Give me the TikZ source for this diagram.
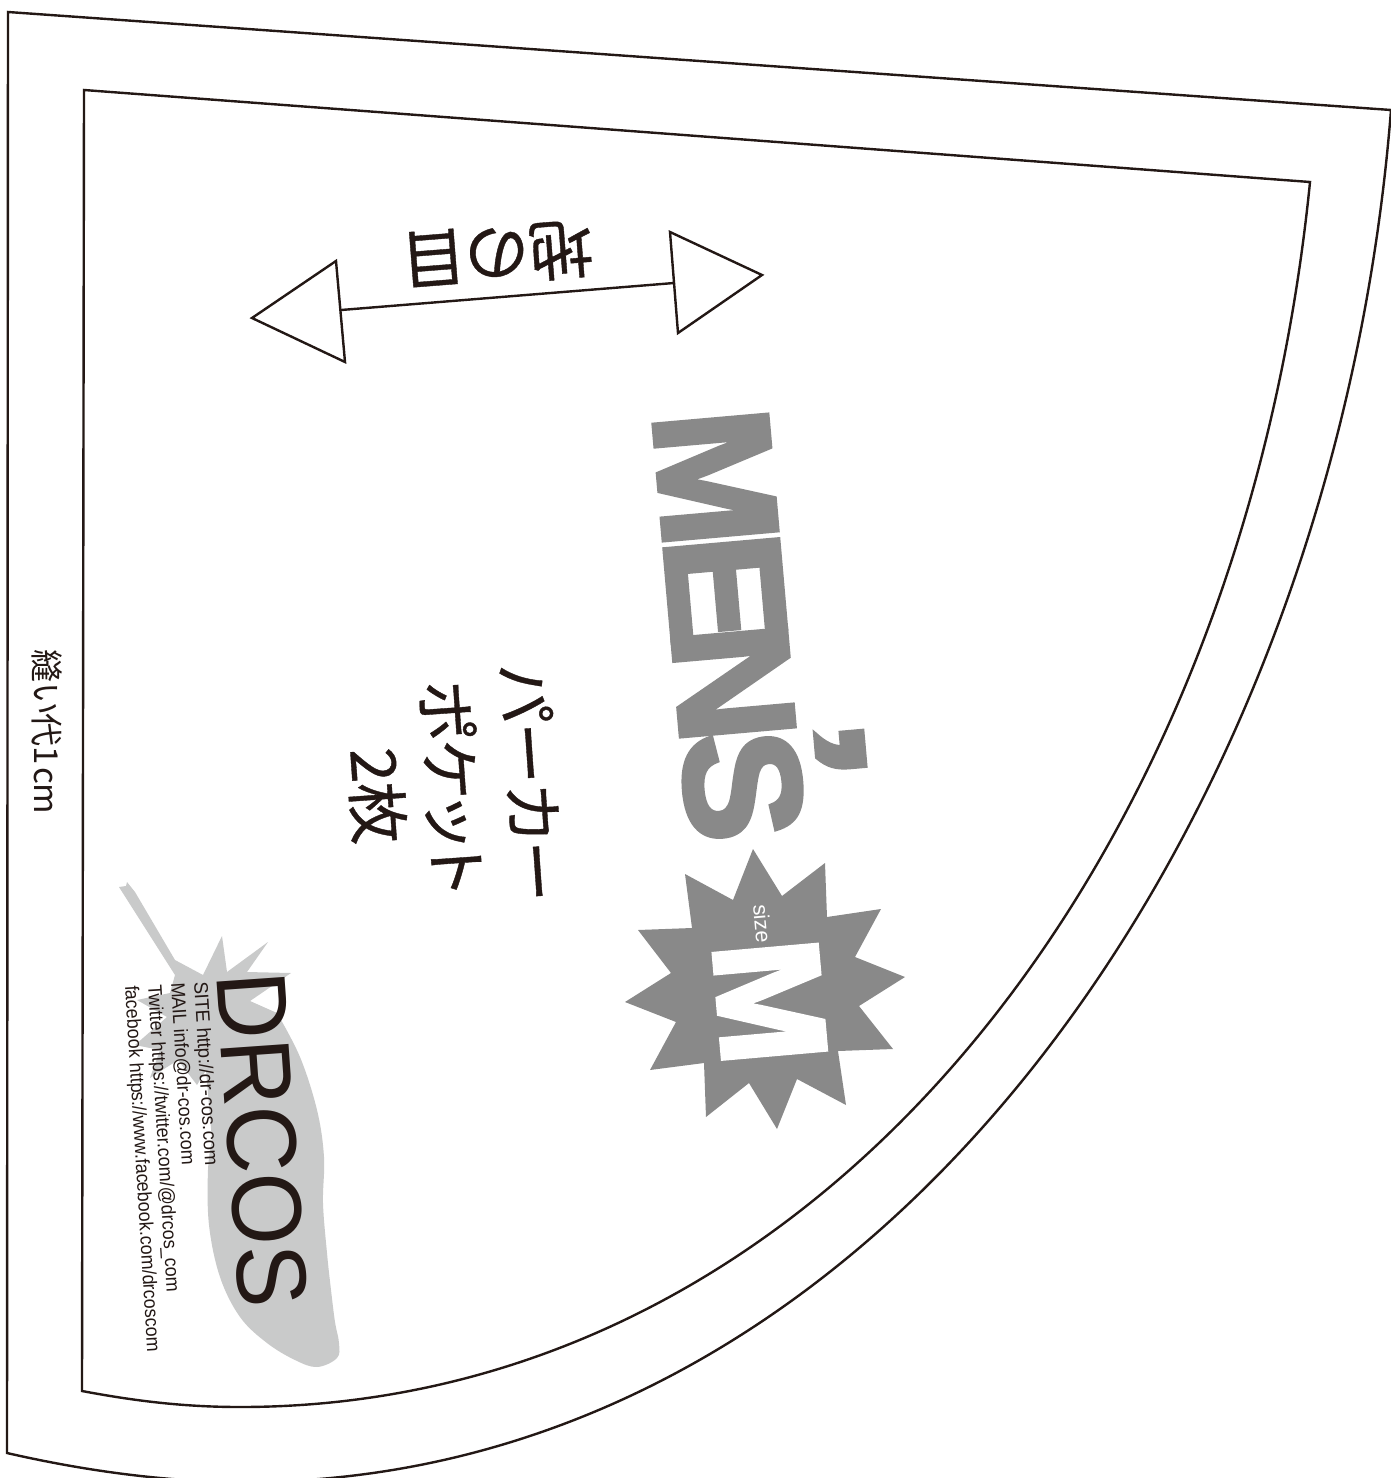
\documentclass[tikz,border=0pt]{standalone}
\usepackage{graphicx}
\usepackage{fontspec}
\setmainfont{Liberation Sans}
\newfontfamily\heavy[UprightFont=* Bold,FakeBold=3]{Liberation Sans}
\newfontfamily\cjk[RawFeature={+palt}]{Noto Sans CJK JP}
\newfontfamily\cjkm[RawFeature={+palt},FakeBold=.6]{Noto Sans CJK JP}
\definecolor{ink}{HTML}{231815}
\definecolor{greyA}{HTML}{898989}
\definecolor{greyB}{HTML}{C9CACA}
\newcommand{\fs}[1]{\fontsize{#1}{#1}\selectfont}
\tikzset{
  cutline/.style={draw=ink,line width=2.4pt,line join=miter},
  label/.style={inner sep=0pt,outer sep=0pt,text=ink},
  startext/.style={label,anchor=base west,rotate=-85},
  webline/.style={label,anchor=base west,rotate=-86.5,font=\fs{19.5}}
}
\begin{document}
\begin{tikzpicture}[x=1pt,y=-1pt]
\useasboundingbox (0,0) rectangle (1391,1478);
\clip (0,0) rectangle (1391,1478);
\fill[white] (0,0) rectangle (1391,1478);
% seam allowance outline
\draw[cutline] (8,12) -- (1391,110) .. controls (1335,820) and (885,1482) .. (245,1482)
  .. controls (170,1482) and (90,1472) .. (7,1453) -- cycle;
% sewing outline
\draw[cutline] (84,90) -- (1310,182) .. controls (1242,862) and (820,1407) .. (240,1407)
  .. controls (180,1407) and (130,1400) .. (82,1391) -- cycle;
% feather
\fill[greyB] (119,887) -- (126,886) -- (127,882) -- (135,892) -- (175,960) -- (203,975)
  -- (222,936) -- (227,972) -- (268,942) -- (247,972) -- (291,973) -- (250,1001) -- (277,1013)
  -- plot[smooth,tension=.6] coordinates {(277,1013) (300,1057) (317,1110) (324,1157) (323,1203) (327,1253) (331,1290) (335,1322) (339,1343) (337,1358) (317,1367) (295,1360) (267,1343) (240,1317) (220,1277) (209,1225) (208,1170) (212,1140)}
  -- (206,1070) -- (197,1085) -- (178,1060) -- (150,1078) -- (160,1050) -- (135,1045) -- (167,1017)
  -- (137,1000) -- (170,993) -- (175,975) -- cycle;
% burst
\fill[greyA] (753,849) -- (782,896) -- (825,863) -- (827,917) -- (881,909) -- (855,957)
  -- (905,977) -- (859,1006) -- (893,1049) -- (838,1051) -- (846,1105) -- (797,1079)
  -- (777,1129) -- (749,1083) -- (706,1117) -- (704,1063) -- (650,1070) -- (676,1022)
  -- (625,1002) -- (671,973) -- (638,930) -- (692,928) -- (685,874) -- (733,900) -- cycle;
% grain line
\coordinate (arrowL) at (341,310);
\coordinate (arrowR) at (674,283);
\draw[ink,line width=2.4pt] (arrowL) -- (arrowR);
\draw[cutline,fill=white] (252,318) -- (336,261) -- (345,362) -- cycle;
\draw[cutline,fill=white] (670,232) -- (762,275) -- (678,333) -- cycle;
\node[label,rotate=184.5,font=\cjkm\fs{65}] (grain) at (497,255) {地の目};
% labels
\node[label,anchor=base west,rotate=-85,font=\heavy\fs{165},text=greyA] (mens) at (653,414)
  {M\kern-12.5pt E\kern-20pt N\kern-15pt\rlap{\raisebox{67pt}{\scalebox{1.4}[1]{’}}}\kern15pt\kern-11pt S};
\node[startext,font=\heavy\fs{150},text=white] (sizeM) at (713,944) {M};
\node[startext,font=\fs{21.5},text=white] (sizeW) at (753,905) {size};
\node[label,rotate=-86,font=\cjkm\fs{62}] (t1) at (532,783) {パーカー};
\node[label,rotate=-86,font=\cjkm\fs{62}] (t2) at (452,787) {ポケット};
\node[label,rotate=-86,font=\cjkm\fs{62}] (t3) at (377,796) {2枚};
\node[label,rotate=-90,font=\cjk\fs{33}] (seam) at (47,732) {縫い代1\kern2pt cm};
\node[label,anchor=base west,rotate=-86,xscale=.94,font=\fs{99}] (logo) at (216,974) {DRCOS};
\node[webline,xscale=.95] (l1) at (194,982) {SITE http://dr-cos.com};
\node[webline,xscale=.92] (l2) at (171,983) {MAIL info@dr-cos.com};
\node[webline,xscale=.92] (l3) at (148,985) {Twitter https://twitter.com/@drcos\_com};
\node[webline,xscale=.915] (l4) at (125,986) {facebook https://www.facebook.com/drcoscom};
\end{tikzpicture}
\end{document}
